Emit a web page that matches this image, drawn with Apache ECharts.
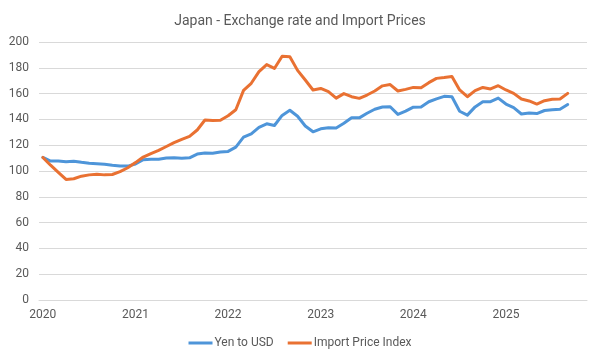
<!DOCTYPE html>
<html>
<head>
<meta charset="utf-8">
<script src="https://cdn.jsdelivr.net/npm/echarts@6/dist/echarts.min.js"></script>
<style>html,body{margin:0;padding:0;background:#fff}#c{width:600px;height:361px}</style>
</head>
<body>
<div id="c"></div>
<script>
// Monthly categories, Jan 2020 .. Nov 2025 (last two without data)
const years = ['2020', '2021', '2022', '2023', '2024', '2025'];
const categories = [];
years.forEach(y => { for (let m = 1; m <= 12; m++) categories.push(y + '-' + (m < 10 ? '0' + m : m)); });
categories.length = 71;

const yenToUSD = [
  110.5, 107.7, 107.8, 107.2, 107.6, 106.7, 106.0, 105.6, 105.2, 104.4, 103.8, 103.8,
  105.4, 108.7, 109.1, 109.1, 110.1, 110.2, 109.9, 110.2, 113.1, 114.0, 113.8, 114.8,
  115.2, 118.5, 126.2, 128.8, 133.9, 136.6, 135.3, 143.1, 147.1, 142.4, 134.9, 130.4,
  132.7, 133.5, 133.4, 137.0, 141.2, 141.2, 144.8, 147.9, 149.6, 149.8, 143.9, 146.4,
  149.5, 149.7, 153.7, 155.9, 157.9, 157.5, 146.3, 143.3, 149.7, 153.7, 153.7, 156.5,
  151.9, 149.1, 144.2, 144.9, 144.5, 146.9, 147.5, 147.9, 151.5
];
const importPriceIndex = [
  110.5, 104.5, 99.0, 93.5, 94.0, 96.0, 97.0, 97.5, 97.0, 97.3, 99.5, 102.5,
  106.5, 110.8, 113.5, 116.0, 119.0, 122.0, 124.5, 126.8, 131.8, 139.5, 139.2, 139.3,
  142.8, 147.5, 162.5, 168.0, 177.0, 182.5, 179.5, 189.0, 188.5, 178.0, 170.5, 162.8,
  164.0, 161.5, 156.5, 160.0, 157.6, 156.3, 158.9, 162.0, 166.0, 167.0, 162.0, 163.3,
  164.8, 164.6, 168.5, 171.8, 172.4, 173.2, 162.8, 157.6, 162.3, 164.8, 163.6, 166.1,
  162.8, 160.2, 155.8, 154.3, 151.9, 154.5, 155.6, 155.8, 160.2
];
const seriesNames = ['Yen to USD', 'Import Price Index'];
const titleText = 'Japan - Exchange rate and Import Prices';

const chart = echarts.init(document.getElementById('c'), null, {renderer: 'canvas'});
const FONT = 'Roboto, "Liberation Sans", sans-serif';
chart.setOption({
  animation: false,
  textStyle: {fontFamily: FONT},
  title: {
    text: titleText, left: 'center', top: 9,
    textStyle: {fontSize: 14, fontWeight: 'normal', color: '#595959', fontFamily: FONT}
  },
  color: ['#4E95D9', '#E97132'],
  legend: {
    bottom: 7, left: 'center', itemWidth: 24, itemHeight: 3, icon: 'rect', itemGap: 14,
    textStyle: {fontSize: 12, color: '#595959', padding: [0, 0, 0, -3]},
    data: seriesNames
  },
  grid: {left: 39, right: 13, top: 42, bottom: 61, containLabel: false},
  xAxis: {
    type: 'category', data: categories, boundaryGap: true,
    axisLine: {lineStyle: {color: '#D9D9D9', width: 1}},
    axisTick: {show: false},
    axisLabel: {
      interval: (i) => i % 12 === 0,
      formatter: (v) => v.slice(0, 4),
      color: '#595959', fontSize: 12, margin: 9
    }
  },
  yAxis: {
    type: 'value', min: 0, max: 200, interval: 20,
    axisLine: {show: false}, axisTick: {show: false},
    splitLine: {lineStyle: {color: '#D9D9D9', width: 1}},
    axisLabel: {color: '#595959', fontSize: 12, margin: 10}
  },
  series: [
    {name: seriesNames[0], type: 'line', data: yenToUSD, showSymbol: false, symbol: 'none',
     lineStyle: {width: 3, cap: 'round', join: 'round'}},
    {name: seriesNames[1], type: 'line', data: importPriceIndex, showSymbol: false, symbol: 'none',
     lineStyle: {width: 3, cap: 'round', join: 'round'}}
  ]
});
</script>
</body>
</html>
